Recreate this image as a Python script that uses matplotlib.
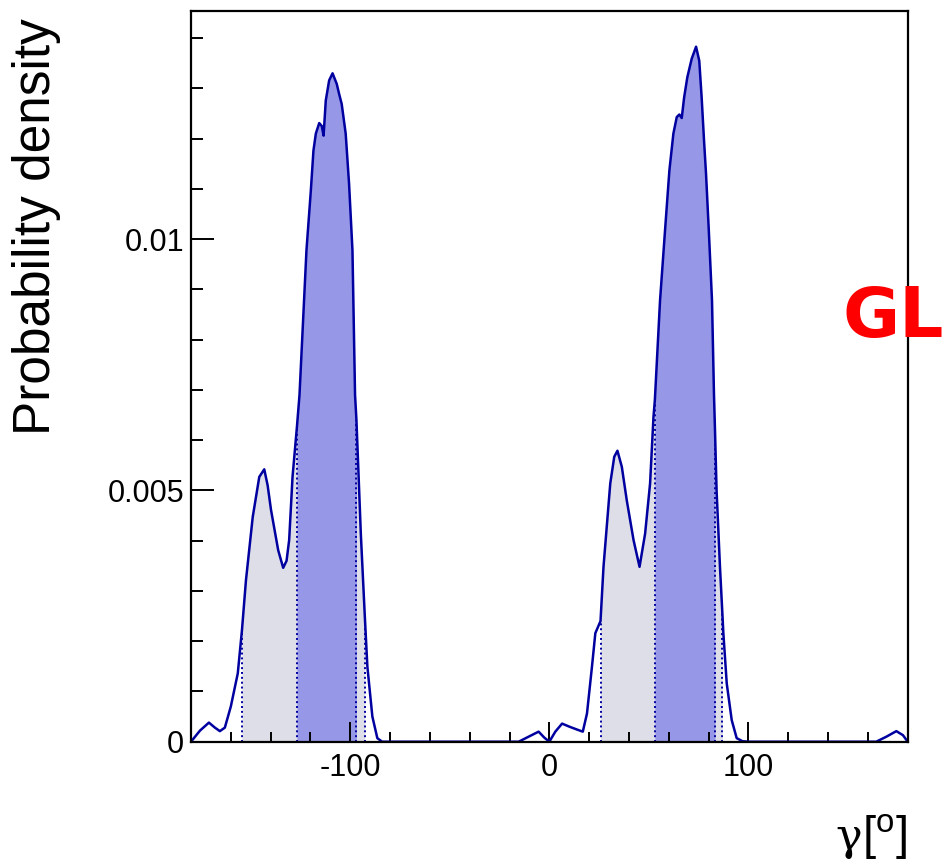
import numpy as np
import matplotlib
matplotlib.use("Agg")
import matplotlib.pyplot as plt

plt.rcParams['font.family'] = ['Liberation Sans', 'DejaVu Sans']
plt.rcParams['mathtext.fontset'] = 'custom'
plt.rcParams['mathtext.rm'] = 'Liberation Sans'

# posterior density of gamma
gamma_deg = [-180, -175.5, -171, -168, -165.5, -163, -160, -156.5, -154.4, -152.4,
             -149, -145.7, -143.2, -141.5, -139.8, -136.2, -133.7, -132, -130.7, -129,
             -126.8, -125.5, -122, -119.8, -118.5, -117.3, -115.6, -114.3, -113.4, -112.3,
             -110.6, -108.9, -106.8, -105.6, -104.3, -102.3, -100.6, -98.9, -97.6, -96.9,
             -94.7, -92.7, -91.4, -88.9, -86.4, -84, -82, -15.4, -10.4, -5.4,
             -2.5, 0, 3, 6.4, 10, 14, 16.8, 18.9, 21.4, 23.1,
             25.7, 27.2, 30.6, 32.6, 34.2, 36.4, 38.9, 42.3, 45.3, 48.1,
             50.6, 52.3, 53.0, 55.6, 58.1, 60.3, 62.3, 64, 65.3, 66.5,
             67.7, 69.3, 71.5, 73.7, 75.3, 76.5, 77.7, 78.7, 80.1, 81.7,
             82.7, 83.2, 84, 85.7, 86.9, 87.4, 89.1, 91.6, 94.1, 97,
             100, 164.2, 169.3, 174.3, 177.6, 180]
density = [0.0, 0.00022, 0.00038, 0.00028, 0.00021, 0.00028, 0.0007, 0.00136, 0.00222, 0.00321,
           0.00447, 0.00527, 0.00542, 0.0051, 0.00461, 0.00381, 0.00346, 0.0036, 0.00401, 0.00527,
           0.00626, 0.0069, 0.00978, 0.01097, 0.01176, 0.0121, 0.01231, 0.01225, 0.01206, 0.01276,
           0.01316, 0.0133, 0.01309, 0.01289, 0.01269, 0.0121, 0.0111, 0.00978, 0.0069, 0.0064,
           0.00414, 0.0025, 0.00149, 0.0005, 0.00007, 0.0, 0.0, 0.0, 0.0001, 0.0002,
           0.00008, 0.0, 0.0002, 0.00036, 0.0003, 0.00024, 0.0002, 0.00056, 0.00149, 0.00216,
           0.0024, 0.00348, 0.00514, 0.00567, 0.00579, 0.00547, 0.0048, 0.00401, 0.00348, 0.00414,
           0.00514, 0.00646, 0.0068, 0.00878, 0.01017, 0.01137, 0.0121, 0.01243, 0.01248, 0.01241,
           0.01282, 0.01322, 0.01359, 0.01383, 0.01355, 0.01282, 0.01196, 0.0113, 0.01017, 0.00878,
           0.0069, 0.0062, 0.005, 0.00348, 0.00256, 0.00216, 0.00116, 0.00043, 0.00007, 0.00001,
           0.0, 0.0, 0.0001, 0.00021, 0.00013, 0.0]

# credible intervals (outer = light, inner = dark)
outer_ranges = [(-154.4, -92.7), (25.7, 86.9)]
inner_ranges = [(-126.8, -96.9), (53.0, 83.2)]

x = np.array(gamma_deg)
y = np.array(density)

fig = plt.figure(figsize=(9.48, 8.65), dpi=100)
ax = fig.add_axes([191 / 948, 1 - 741.7 / 865, (907.7 - 191) / 948, (741.7 - 11) / 865])

line_col = '#0000a0'
for lo, hi in outer_ranges:
    m = (x >= lo) & (x <= hi)
    ax.fill_between(x, y, where=m, color='#dedee8', lw=0)
for lo, hi in inner_ranges:
    m = (x >= lo) & (x <= hi)
    ax.fill_between(x, y, where=m, color='#9797e8', lw=0)

edges = [e for r in outer_ranges + inner_ranges for e in r]
edge_h = [y[gamma_deg.index(e)] for e in edges]
ax.vlines(edges, 0, edge_h, colors=line_col, linestyles=(0, (1, 1.5)), lw=1.4)

ax.plot(x, y, color=line_col, lw=1.8)

ax.set_xlim(-180, 180)
ax.set_ylim(0, 0.01454)

ax.set_xticks([-100, 0, 100])
ax.set_xticklabels(['-100', '0', '100'])
ax.set_xticks(np.arange(-160, 180, 20), minor=True)
ax.set_yticks([0, 0.005, 0.01])
ax.set_yticklabels(['0', '0.005', '0.01'])
ax.set_yticks(np.arange(0.001, 0.0145, 0.001), minor=True)

ax.tick_params(axis='both', which='both', direction='in', width=1.4, labelsize=22)
ax.tick_params(axis='x', which='major', length=14.5, pad=8)
ax.tick_params(axis='x', which='minor', length=7.2)
ax.tick_params(axis='y', which='major', length=16.5, pad=5)
ax.tick_params(axis='y', which='minor', length=8.6)
for s in ax.spines.values():
    s.set_linewidth(1.6)

fig.text(37 / 948, 1 - 227 / 865, 'Probability density', rotation=90,
         ha='center', va='center', fontsize=37)
fig.text(862 / 948, 1 - 850 / 865, 'γ', family='DejaVu Serif', ha='right',
         va='baseline', fontsize=32)
fig.text(862 / 948, 1 - 850 / 865, r'[$^{\rm o}$]', ha='left', va='baseline', fontsize=34)
fig.text(843 / 948, 1 - 318 / 865, 'GL', color='red', fontsize=50, fontweight='bold',
         family='DejaVu Sans', ha='left', va='center')

fig.savefig('out.png', dpi=100)
